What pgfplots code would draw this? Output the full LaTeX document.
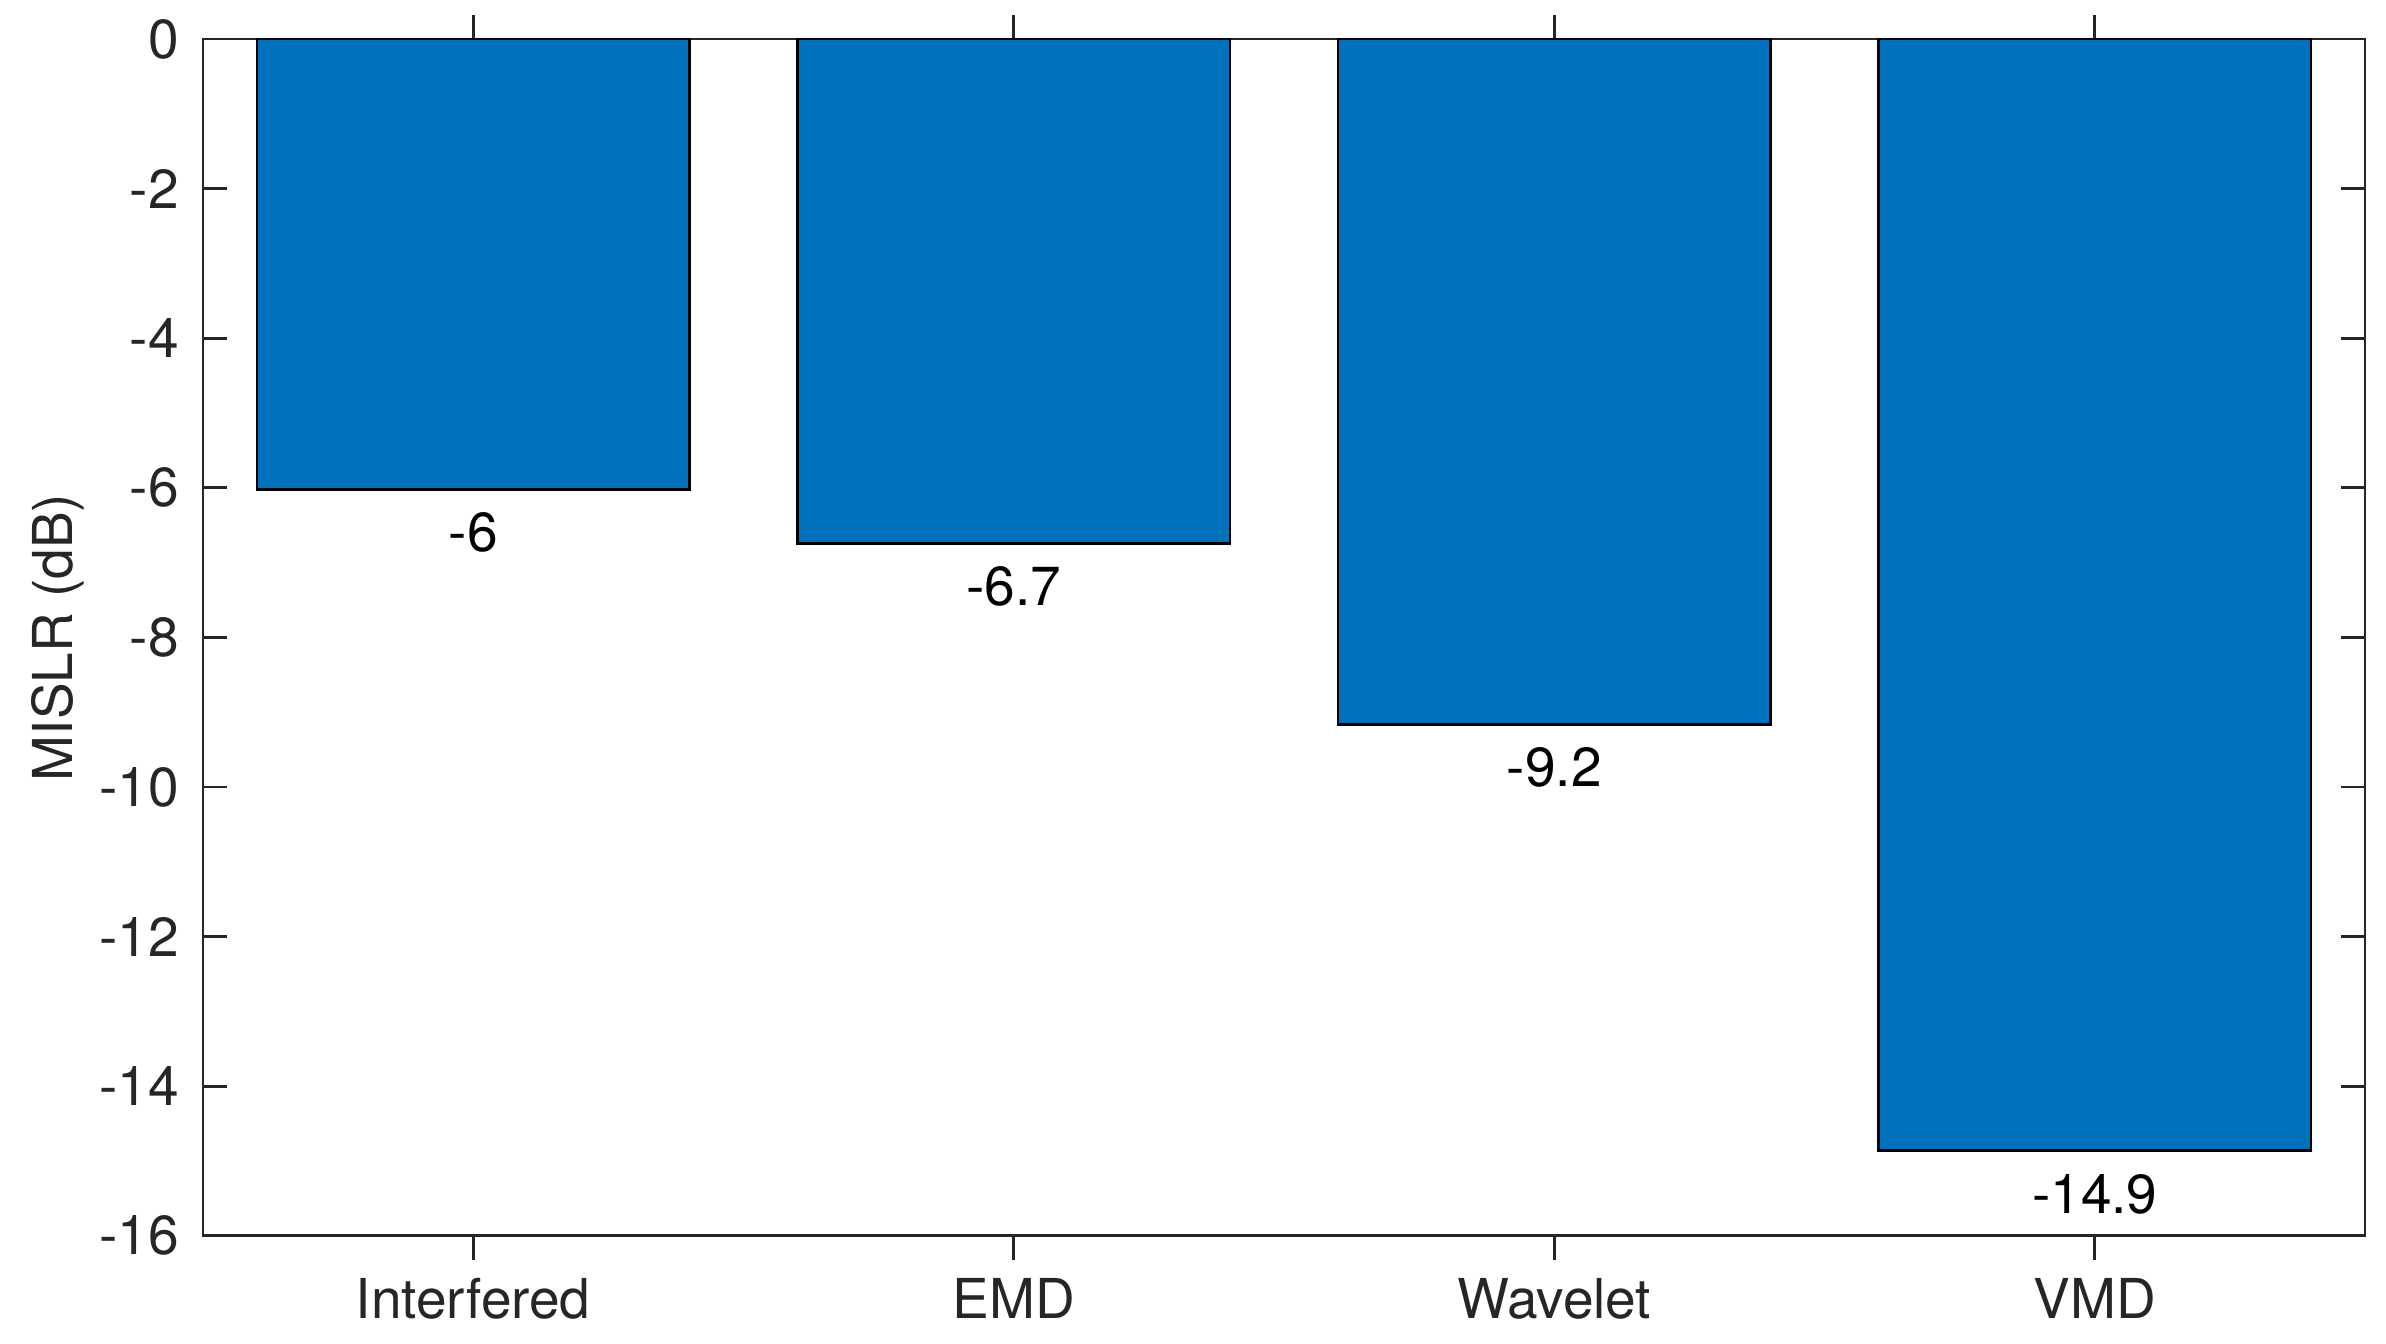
\documentclass[border=0pt]{standalone}
\usepackage{fontspec}
\setmainfont{TeX Gyre Heros}
\usepackage{pgfplots}
\usepackage{pgfplotstable}
\pgfplotsset{compat=1.18}
\definecolor{mblue}{HTML}{0072BD}
\definecolor{axgray}{HTML}{262626}
\pgfplotstableread{
x y lab
1 -6.02 -6
2 -6.74 -6.7
3 -9.16 -9.2
4 -14.86 -14.9
}\mydata
\begin{document}
\begin{tikzpicture}
\begin{axis}[
  scale only axis,
  width=393.1pt, height=217.6pt,
  xmin=0.5, xmax=4.5, ymin=-16, ymax=0,
  xtick={1,2,3,4},
  xticklabels={Interfered,EMD,Wavelet,VMD},
  ytick={-16,-14,-12,-10,-8,-6,-4,-2,0},
  yticklabels={-16,-14,-12,-10,-8,-6,-4,-2,0},
  tick align=inside,
  major tick length=4.4pt,
  axis line style={axgray, line width=0.5pt},
  every tick/.style={axgray, line width=0.5pt},
  tick label style={font=\fontsize{10}{12}\selectfont, text=axgray, inner sep=0pt},
  xticklabel style={anchor=north, text height=7.2pt, text depth=0pt},
  xticklabel shift=3.3pt,
  yticklabel style={anchor=east},
  yticklabel shift=4.2pt,
  ylabel={MISLR (dB)},
  ylabel style={font=\fontsize{10}{12}\selectfont, text=axgray, at={(axis description cs:-0.0605,0.5)}, anchor=base, inner sep=0pt},
  ybar, bar width=0.8, bar shift=0pt,
  nodes near coords,
  point meta=explicit symbolic,
  nodes near coords style={anchor=north, inner sep=0pt, yshift=-4pt, text height=7.1pt, text depth=0pt, font=\fontsize{10}{12}\selectfont, text=black},
  clip=false,
]
\addplot[fill=mblue, draw=black, line width=0.5pt] table[x=x, y=y, meta=lab] {\mydata};
\coordinate (sw) at (rel axis cs:0,0);
\coordinate (ne) at (rel axis cs:1,1);
\end{axis}
\pgfresetboundingbox
\useasboundingbox ([xshift=-36.9pt,yshift=-19.6pt]sw) rectangle ([xshift=3.8pt,yshift=7.1pt]ne);
\end{tikzpicture}
\end{document}
